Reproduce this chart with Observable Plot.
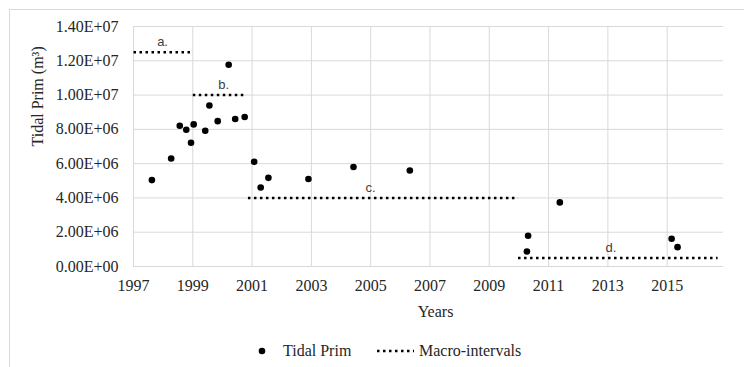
<!DOCTYPE html>
<html>
<head>
<meta charset="utf-8">
<script src="https://cdn.jsdelivr.net/npm/d3@7"></script>
<script src="https://cdn.jsdelivr.net/npm/@observablehq/plot@0.6"></script>
<style>
  html, body { margin: 0; padding: 0; background: #fff; }
  #wrap { position: relative; width: 744px; height: 367px; overflow: hidden; }
  #border { position: absolute; left: 9px; top: 9px; width: 800px; height: 400px;
            border-top: 1px solid #d9d9d9; border-left: 1px solid #d9d9d9; box-sizing: border-box; }
  #chart { position: absolute; left: 0; top: 0; }
  #legend { position: absolute; left: 0; top: 335px; width: 744px; height: 32px;
            font-family: "Liberation Serif", "Times New Roman", serif; font-size: 16px; color: #262626; }
  #legend .t { position: absolute; top: 6px; line-height: 20px; white-space: nowrap; }
  #legend svg { position: absolute; }
</style>
</head>
<body>
<div id="wrap">
  <div id="border"></div>
  <div id="chart"></div>
  <div id="legend">
    <svg style="left:257px; top:11px" width="10" height="10"><circle cx="5" cy="5" r="3.3" fill="#000"/></svg>
    <span class="t" style="left:283px">Tidal Prim</span>
    <svg style="left:376px; top:11px" width="40" height="10"><line x1="1" y1="5" x2="38" y2="5" stroke="#000" stroke-width="2.5" stroke-dasharray="2.5 3.5"/></svg>
    <span class="t" style="left:419px">Macro-intervals</span>
  </div>
</div>
<script>
// Tidal prism measurements
const years = [1997.62, 1998.27, 1998.56, 1998.78, 1998.94, 1999.03, 1999.42, 1999.56, 1999.84,
               2000.21, 2000.43, 2000.75, 2001.07, 2001.29, 2001.55, 2002.90, 2004.42, 2006.32,
               2010.27, 2010.31, 2011.38, 2015.15, 2015.35];
const values = [5.04e6, 6.30e6, 8.21e6, 7.98e6, 7.22e6, 8.29e6, 7.92e6, 9.39e6, 8.48e6,
                11.77e6, 8.60e6, 8.72e6, 6.11e6, 4.61e6, 5.17e6, 5.10e6, 5.80e6, 5.60e6,
                0.875e6, 1.79e6, 3.74e6, 1.62e6, 1.13e6];

// Macro-intervals
const intervalLabels = ["a.", "b.", "c.", "d."];
const intervalStart = [1997.0, 1999.0, 2000.86, 2009.97];
const intervalEnd = [1999.0, 2000.82, 2009.97, 2016.7];
const intervalValue = [1.25e7, 1.0e7, 4.0e6, 5.0e5];
const labelYear = [1997.98, 2000.04, 2005.0, 2013.1];

// Axis ticks
const xTicks = [1997, 1999, 2001, 2003, 2005, 2007, 2009, 2011, 2013, 2015];
const yTicks = [0, 2e6, 4e6, 6e6, 8e6, 1e7, 1.2e7, 1.4e7];

const points = years.map((y, i) => ({year: y, value: values[i]}));
const intervals = intervalLabels.map((l, i) => ({
  label: l, x1: intervalStart[i], x2: intervalEnd[i], y: intervalValue[i], lx: labelYear[i]
}));

function sci(v) {
  const [m, e] = v.toExponential(2).split("e");
  return m + "E" + e[0] + e.slice(1).padStart(2, "0");
}

const chart = Plot.plot({
  width: 744,
  height: 335,
  marginTop: 26,
  marginLeft: 133,
  marginRight: 21,
  marginBottom: 69,
  style: {fontFamily: "'Liberation Serif', 'Times New Roman', serif", fontSize: "16px", color: "#262626", background: "transparent"},
  x: {domain: [1997, 2016.9]},
  y: {domain: [0, 1.4e7]},
  marks: [
    Plot.gridX(xTicks, {stroke: "#d9d9d9", strokeOpacity: 1}),
    Plot.gridY(yTicks, {stroke: "#d9d9d9", strokeOpacity: 1}),
    Plot.axisX(xTicks, {tickSize: 0, tickPadding: 13, tickFormat: d => String(d), label: null}),
    Plot.axisY(yTicks, {tickSize: 0, tickPadding: 15, tickFormat: sci, label: null}),
    Plot.link(intervals, {x1: "x1", x2: "x2", y1: "y", y2: "y", stroke: "#000", strokeWidth: 2.5,
      strokeDasharray: "2.5 3.5", strokeLinecap: "butt"}),
    Plot.text(intervals, {x: "lx", y: "y", text: "label", dy: -10, fill: "#404040",
      fontFamily: "'Liberation Sans', Arial, sans-serif", fontSize: 13}),
    Plot.dot(points, {x: "year", y: "value", r: 3.3, fill: "#000", stroke: null}),
    Plot.text(["Tidal Prim (m³)"], {frameAnchor: "left", dx: -96, rotate: -90, text: d => d,
      lineAnchor: "middle", fill: "#262626"}),
    Plot.text(["Years"], {frameAnchor: "bottom", dx: 7, dy: 45, text: d => d,
      lineAnchor: "middle", fill: "#262626"})
  ]
});
document.getElementById("chart").appendChild(chart);
</script>
</body>
</html>
